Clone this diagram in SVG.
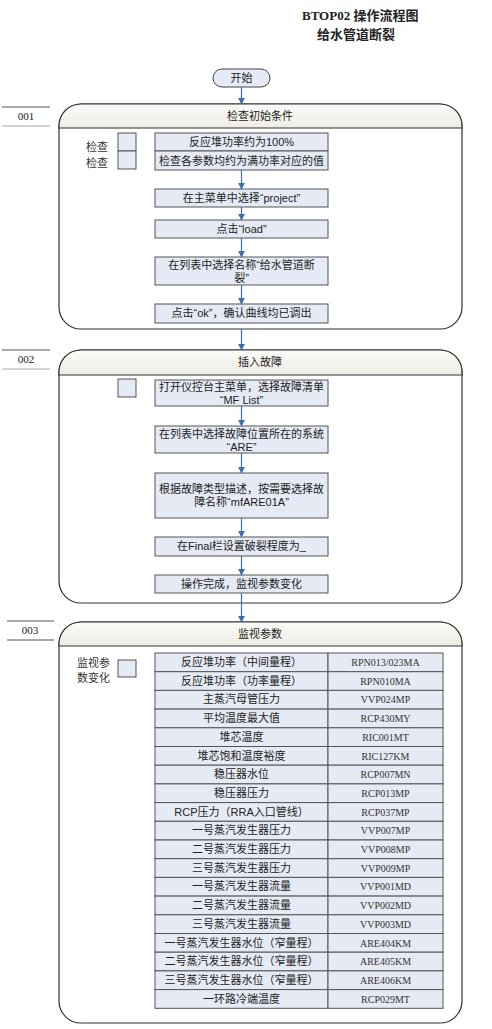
<svg xmlns="http://www.w3.org/2000/svg" width="492" height="1029" viewBox="0 0 492 1029">
<defs>
<linearGradient id="hdr" x1="0" y1="0" x2="0" y2="1">
<stop offset="0" stop-color="#fbfbf9"/>
<stop offset="1" stop-color="#eeede4"/>
</linearGradient>
<marker id="arr" viewBox="0 0 10 10" refX="9" refY="5" markerWidth="7" markerHeight="7" markerUnits="userSpaceOnUse" orient="auto">
<path d="M0,0 L10,5 L0,10 Z" fill="#3f6db3"/>
</marker>
</defs>
<style>
.t{font-family:"Liberation Sans","Noto Sans CJK SC",sans-serif;font-size:11px;fill:#222;text-anchor:middle}
.tl{font-family:"Liberation Sans","Noto Sans CJK SC",sans-serif;font-size:11px;fill:#333}
.code{font-family:"Liberation Serif","Noto Sans CJK SC",serif;font-size:10px;fill:#333;text-anchor:middle}
.title{font-family:"Liberation Serif","Noto Sans CJK SC",serif;font-size:13px;font-weight:bold;fill:#222}
.box{fill:#e5eaf4;stroke:#555;stroke-width:1}
.chk{fill:#e5eaf4;stroke:#555;stroke-width:1}
.cont{fill:#fff;stroke:#333;stroke-width:1.2}
.hd{fill:url(#hdr);stroke:#333;stroke-width:1.2}
.lab{font-family:"Liberation Serif",serif;font-size:11px;fill:#222;text-anchor:middle}
.c{stroke:#3f6db3;stroke-width:1.2;fill:none;marker-end:url(#arr)}
.cell{fill:#e5eaf4;stroke:#555;stroke-width:1}
</style>

<text class="title" x="302" y="20">BTOP02 操作流程图</text>
<text class="title" x="317" y="39">给水管道断裂</text>

<g id="labels">
<line x1="2" y1="107" x2="50" y2="107" stroke="#555"/>
<line x1="2" y1="126" x2="50" y2="126" stroke="#aaa"/>
<text class="lab" x="26" y="120">001</text>
<line x1="2" y1="350" x2="50" y2="350" stroke="#555"/>
<line x1="2" y1="369" x2="50" y2="369" stroke="#aaa"/>
<text class="lab" x="26" y="363">002</text>
<line x1="7" y1="621" x2="54" y2="621" stroke="#555"/>
<line x1="7" y1="640" x2="54" y2="640" stroke="#555"/>
<text class="lab" x="30" y="634">003</text>
</g>

<g id="start">
<rect x="213" y="69" width="57" height="18" rx="9" fill="#e5eaf4" stroke="#444"/>
<text class="t" x="241.5" y="82">开始</text>
</g>

<g id="sec1">
<path class="cont" d="M59,126 A22,22 0 0 1 81,104 H440 A22,22 0 0 1 462,126 V307 A22,22 0 0 1 440,329 H81 A22,22 0 0 1 59,307 Z"/>
<path class="hd" d="M59,128 V126 A22,22 0 0 1 81,104 H440 A22,22 0 0 1 462,126 V128 Z"/>
<text class="t" x="260" y="120">检查初始条件</text>
</g>
<g id="chk1">
<rect class="chk" x="118" y="133" width="18" height="18"/>
<rect class="chk" x="118" y="151" width="18" height="18"/>
<text class="tl" x="86" y="151">检查</text>
<text class="tl" x="86" y="167">检查</text>
</g>
<g id="n1a"><rect class="box" x="155" y="133" width="173" height="18"/><text class="t" x="241.5" y="146">反应堆功率约为100%</text></g>
<g id="n1b"><rect class="box" x="155" y="151" width="173" height="19"/><text class="t" x="241.5" y="165">检查各参数均约为满功率对应的值</text></g>
<g id="n1c"><rect class="box" x="155" y="189" width="173" height="18"/><text class="t" x="241.5" y="202">在主菜单中选择“project”</text></g>
<g id="n1d"><rect class="box" x="155" y="220" width="173" height="18"/><text class="t" x="241.5" y="233">点击“load”</text></g>
<g id="n1e"><rect class="box" x="155" y="257" width="173" height="28"/><text class="t" x="241.5" y="269">在列表中选择名称“给水管道断</text><text class="t" x="241.5" y="282">裂”</text></g>
<g id="n1f"><rect class="box" x="155" y="304" width="173" height="19"/><text class="t" x="241.5" y="317">点击“ok”，确认曲线均已调出</text></g>

<g id="sec2">
<path class="cont" d="M59,372 A22,22 0 0 1 81,350 H440 A22,22 0 0 1 462,372 V581 A22,22 0 0 1 440,603 H81 A22,22 0 0 1 59,581 Z"/>
<path class="hd" d="M59,375 V372 A22,22 0 0 1 81,350 H440 A22,22 0 0 1 462,372 V375 Z"/>
<text class="t" x="260" y="366">插入故障</text>
<rect class="chk" x="118" y="379" width="18" height="18"/>
</g>
<g id="n2a"><rect class="box" x="155" y="380" width="173" height="26"/><text class="t" x="241.5" y="391">打开仪控台主菜单，选择故障清单</text><text class="t" x="241.5" y="404">“MF List”</text></g>
<g id="n2b"><rect class="box" x="155" y="426" width="173" height="27"/><text class="t" x="241.5" y="438">在列表中选择故障位置所在的系统</text><text class="t" x="241.5" y="451">“ARE”</text></g>
<g id="n2c"><rect class="box" x="155" y="473" width="173" height="45"/><text class="t" x="241.5" y="493">根据故障类型描述，按需要选择故</text><text class="t" x="241.5" y="506">障名称“mfARE01A”</text></g>
<g id="n2d"><rect class="box" x="155" y="537" width="173" height="19"/><text class="t" x="241.5" y="550">在Final栏设置破裂程度为_</text></g>
<g id="n2e"><rect class="box" x="155" y="575" width="173" height="18"/><text class="t" x="241.5" y="588">操作完成，监视参数变化</text></g>

<g id="sec3">
<path class="cont" d="M59,644 A22,22 0 0 1 81,622 H440 A22,22 0 0 1 462,644 V1001 A22,22 0 0 1 440,1023 H81 A22,22 0 0 1 59,1001 Z"/>
<path class="hd" d="M59,646 V644 A22,22 0 0 1 81,622 H440 A22,22 0 0 1 462,644 V646 Z"/>
<text class="t" x="260" y="638">监视参数</text>
<rect class="chk" x="118" y="660" width="18" height="17"/>
<text class="tl" x="77" y="667">监视参</text>
<text class="tl" x="77" y="682">数变化</text>
</g>

<g id="table">
<rect class="cell" x="155" y="653" width="173" height="18.7"/><rect class="cell" x="328" y="653" width="115" height="18.7"/>
<text class="t" x="241.5" y="666">反应堆功率（中间量程）</text><text class="code" x="385.5" y="666">RPN013/023MA</text>
<rect class="cell" x="155" y="671.7" width="173" height="18.7"/><rect class="cell" x="328" y="671.7" width="115" height="18.7"/>
<text class="t" x="241.5" y="684.7">反应堆功率（功率量程）</text><text class="code" x="385.5" y="684.7">RPN010MA</text>
<rect class="cell" x="155" y="690.4" width="173" height="18.7"/><rect class="cell" x="328" y="690.4" width="115" height="18.7"/>
<text class="t" x="241.5" y="703.4">主蒸汽母管压力</text><text class="code" x="385.5" y="703.4">VVP024MP</text>
<rect class="cell" x="155" y="709.1" width="173" height="18.7"/><rect class="cell" x="328" y="709.1" width="115" height="18.7"/>
<text class="t" x="241.5" y="722.1">平均温度最大值</text><text class="code" x="385.5" y="722.1">RCP430MY</text>
<rect class="cell" x="155" y="727.8" width="173" height="18.7"/><rect class="cell" x="328" y="727.8" width="115" height="18.7"/>
<text class="t" x="241.5" y="740.8">堆芯温度</text><text class="code" x="385.5" y="740.8">RIC001MT</text>
<rect class="cell" x="155" y="746.5" width="173" height="18.7"/><rect class="cell" x="328" y="746.5" width="115" height="18.7"/>
<text class="t" x="241.5" y="759.5">堆芯饱和温度裕度</text><text class="code" x="385.5" y="759.5">RIC127KM</text>
<rect class="cell" x="155" y="765.2" width="173" height="18.7"/><rect class="cell" x="328" y="765.2" width="115" height="18.7"/>
<text class="t" x="241.5" y="778.2">稳压器水位</text><text class="code" x="385.5" y="778.2">RCP007MN</text>
<rect class="cell" x="155" y="783.9" width="173" height="18.7"/><rect class="cell" x="328" y="783.9" width="115" height="18.7"/>
<text class="t" x="241.5" y="796.9">稳压器压力</text><text class="code" x="385.5" y="796.9">RCP013MP</text>
<rect class="cell" x="155" y="802.6" width="173" height="18.7"/><rect class="cell" x="328" y="802.6" width="115" height="18.7"/>
<text class="t" x="241.5" y="815.6">RCP压力（RRA入口管线）</text><text class="code" x="385.5" y="815.6">RCP037MP</text>
<rect class="cell" x="155" y="821.3" width="173" height="18.7"/><rect class="cell" x="328" y="821.3" width="115" height="18.7"/>
<text class="t" x="241.5" y="834.3">一号蒸汽发生器压力</text><text class="code" x="385.5" y="834.3">VVP007MP</text>
<rect class="cell" x="155" y="840" width="173" height="18.7"/><rect class="cell" x="328" y="840" width="115" height="18.7"/>
<text class="t" x="241.5" y="853">二号蒸汽发生器压力</text><text class="code" x="385.5" y="853">VVP008MP</text>
<rect class="cell" x="155" y="858.7" width="173" height="18.7"/><rect class="cell" x="328" y="858.7" width="115" height="18.7"/>
<text class="t" x="241.5" y="871.7">三号蒸汽发生器压力</text><text class="code" x="385.5" y="871.7">VVP009MP</text>
<rect class="cell" x="155" y="877.4" width="173" height="18.7"/><rect class="cell" x="328" y="877.4" width="115" height="18.7"/>
<text class="t" x="241.5" y="890.4">一号蒸汽发生器流量</text><text class="code" x="385.5" y="890.4">VVP001MD</text>
<rect class="cell" x="155" y="896.1" width="173" height="18.7"/><rect class="cell" x="328" y="896.1" width="115" height="18.7"/>
<text class="t" x="241.5" y="909.1">二号蒸汽发生器流量</text><text class="code" x="385.5" y="909.1">VVP002MD</text>
<rect class="cell" x="155" y="914.8" width="173" height="18.7"/><rect class="cell" x="328" y="914.8" width="115" height="18.7"/>
<text class="t" x="241.5" y="927.8">三号蒸汽发生器流量</text><text class="code" x="385.5" y="927.8">VVP003MD</text>
<rect class="cell" x="155" y="933.5" width="173" height="18.7"/><rect class="cell" x="328" y="933.5" width="115" height="18.7"/>
<text class="t" x="241.5" y="946.5">一号蒸汽发生器水位（窄量程）</text><text class="code" x="385.5" y="946.5">ARE404KM</text>
<rect class="cell" x="155" y="952.2" width="173" height="18.7"/><rect class="cell" x="328" y="952.2" width="115" height="18.7"/>
<text class="t" x="241.5" y="965.2">二号蒸汽发生器水位（窄量程）</text><text class="code" x="385.5" y="965.2">ARE405KM</text>
<rect class="cell" x="155" y="970.9" width="173" height="18.7"/><rect class="cell" x="328" y="970.9" width="115" height="18.7"/>
<text class="t" x="241.5" y="983.9">三号蒸汽发生器水位（窄量程）</text><text class="code" x="385.5" y="983.9">ARE406KM</text>
<rect class="cell" x="155" y="989.6" width="173" height="18.7"/><rect class="cell" x="328" y="989.6" width="115" height="18.7"/>
<text class="t" x="241.5" y="1002.6">一环路冷端温度</text><text class="code" x="385.5" y="1002.6">RCP029MT</text>
</g>

<g id="connectors">
<line class="c" x1="241.5" y1="87" x2="241.5" y2="104"/>
<line class="c" x1="241.5" y1="170" x2="241.5" y2="189"/>
<line class="c" x1="241.5" y1="207" x2="241.5" y2="220"/>
<line class="c" x1="241.5" y1="238" x2="241.5" y2="257"/>
<line class="c" x1="241.5" y1="285" x2="241.5" y2="304"/>
<line class="c" x1="241.5" y1="329" x2="241.5" y2="350"/>
<line class="c" x1="241.5" y1="406" x2="241.5" y2="426"/>
<line class="c" x1="241.5" y1="453" x2="241.5" y2="473"/>
<line class="c" x1="241.5" y1="518" x2="241.5" y2="537"/>
<line class="c" x1="241.5" y1="556" x2="241.5" y2="575"/>
<line class="c" x1="241.5" y1="593" x2="241.5" y2="622"/>
</g>
</svg>
